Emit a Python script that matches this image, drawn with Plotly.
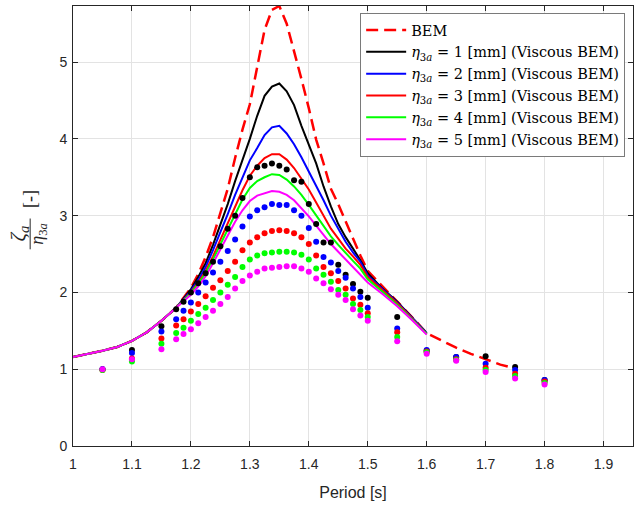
import plotly.graph_objects as go

# ---------------- data ----------------
period_line = [1.0, 1.025, 1.05, 1.075, 1.1, 1.125, 1.15, 1.175, 1.2, 1.2125, 1.225, 1.2375,
               1.25, 1.2625, 1.275, 1.2875, 1.3, 1.3125, 1.325, 1.3375, 1.35, 1.3625, 1.375,
               1.3875, 1.4, 1.4125, 1.425, 1.4375, 1.45, 1.4625, 1.475, 1.4875, 1.5, 1.525,
               1.55, 1.575, 1.6]
period_bem = period_line + [1.625, 1.65, 1.675, 1.7, 1.725, 1.75]

low_common = [1.16, 1.20, 1.24, 1.29, 1.37, 1.48, 1.63, 1.80]

bem = low_common + [2.06, 2.24, 2.46, 2.72, 3.05, 3.35, 3.75, 4.12, 4.45, 4.95, 5.42, 5.68, 5.73,
                    5.5, 5.15, 4.78, 4.4, 3.99, 3.68, 3.35, 3.15, 2.92, 2.7, 2.48, 2.28, 2.08,
                    1.89, 1.68, 1.47, 1.37, 1.28, 1.2, 1.13, 1.06, 1.01]

visc_1mm = low_common + [2.04, 2.2, 2.38, 2.62, 2.88, 3.15, 3.45, 3.72, 4.0, 4.3, 4.56, 4.68, 4.72,
                         4.62, 4.44, 4.17, 3.93, 3.68, 3.38, 3.12, 2.89, 2.72, 2.57, 2.42, 2.25,
                         2.05, 1.88, 1.68, 1.47]
visc_2mm = low_common + [2.02, 2.16, 2.33, 2.55, 2.78, 3.02, 3.27, 3.5, 3.72, 3.88, 4.05, 4.15, 4.17,
                         4.07, 3.93, 3.76, 3.58, 3.4, 3.2, 3.0, 2.82, 2.66, 2.52, 2.4, 2.22,
                         2.04, 1.87, 1.67, 1.47]
visc_3mm = low_common + [2.0, 2.13, 2.28, 2.47, 2.69, 2.9, 3.12, 3.33, 3.52, 3.65, 3.75, 3.8, 3.8,
                         3.73, 3.62, 3.48, 3.34, 3.17, 2.99, 2.83, 2.7, 2.57, 2.47, 2.36, 2.2,
                         2.03, 1.86, 1.66, 1.46]
visc_4mm = low_common + [1.99, 2.11, 2.25, 2.43, 2.63, 2.83, 3.03, 3.21, 3.36, 3.45, 3.5, 3.54, 3.53,
                         3.47, 3.38, 3.27, 3.14, 3.0, 2.86, 2.73, 2.62, 2.51, 2.41, 2.31, 2.17,
                         2.01, 1.84, 1.65, 1.46]
visc_5mm = low_common + [1.97, 2.08, 2.21, 2.38, 2.56, 2.74, 2.92, 3.07, 3.19, 3.26, 3.29, 3.32, 3.31,
                         3.27, 3.2, 3.1, 2.99, 2.87, 2.75, 2.63, 2.53, 2.43, 2.33, 2.24, 2.13,
                         1.98, 1.82, 1.64, 1.45]

period_exp = [1.05, 1.1, 1.15, 1.175, 1.1875, 1.2, 1.2125, 1.225, 1.2375, 1.25, 1.2625, 1.275,
              1.2875, 1.3, 1.3125, 1.325, 1.3375, 1.35, 1.3625, 1.375, 1.3875, 1.4, 1.4125,
              1.425, 1.4375, 1.45, 1.4625, 1.475, 1.4875, 1.5, 1.55, 1.6, 1.65, 1.7, 1.75, 1.8]

exp_1mm = [1.0, 1.25, 1.56, 1.78, 1.88, 2.0, 2.12, 2.25, 2.4, 2.6, 2.83, 3.0, 3.23, 3.5, 3.63, 3.65,
           3.68, 3.65, 3.6, 3.46, 3.44, 3.15, 2.89, 2.65, 2.65, 2.36, 2.23, 2.11, 2.01, 1.93, 1.68,
           1.24, 1.16, 1.17, 1.03, 0.86]
exp_2mm = [1.0, 1.21, 1.49, 1.65, 1.76, 1.87, 2.0, 2.13, 2.26, 2.4, 2.54, 2.69, 2.86, 2.99, 3.07,
           3.11, 3.15, 3.14, 3.14, 3.07, 3.0, 2.84, 2.66, 2.46, 2.39, 2.28, 2.19, 2.05, 1.94, 1.8,
           1.53, 1.25, 1.16, 1.07, 0.99, 0.86]
exp_3mm = [0.99, 1.14, 1.4, 1.57, 1.65, 1.75, 1.85, 1.95, 2.06, 2.16, 2.28, 2.4, 2.55, 2.65, 2.72,
           2.77, 2.8, 2.81, 2.8, 2.77, 2.72, 2.63, 2.48, 2.33, 2.25, 2.15, 2.05, 1.92, 1.84, 1.73,
           1.48, 1.23, 1.13, 1.02, 0.94, 0.84]
exp_4mm = [0.99, 1.1, 1.33, 1.47, 1.54, 1.63, 1.72, 1.8, 1.9, 2.0, 2.1, 2.2, 2.33, 2.43, 2.48,
           2.51, 2.52, 2.53, 2.53, 2.52, 2.49, 2.43, 2.31, 2.23, 2.14, 2.03, 1.97, 1.85, 1.77, 1.68,
           1.42, 1.22, 1.12, 0.99, 0.91, 0.82]
exp_5mm = [1.0, 1.13, 1.26, 1.39, 1.46, 1.52, 1.6, 1.68, 1.76, 1.85, 1.94, 2.05, 2.15, 2.22, 2.27,
           2.31, 2.32, 2.33, 2.34, 2.34, 2.31, 2.27, 2.18, 2.12, 2.04, 1.97, 1.9, 1.78, 1.7, 1.63,
           1.365, 1.2, 1.11, 0.965, 0.88, 0.8]

amplitudes = [1, 2, 3, 4, 5]
colors = ["#000000", "#0000ff", "#ff0000", "#00ff00", "#ff00ff"]
visc_series = [visc_1mm, visc_2mm, visc_3mm, visc_4mm, visc_5mm]
exp_series = [exp_1mm, exp_2mm, exp_3mm, exp_4mm, exp_5mm]

# ---------------- figure ----------------
SERIF = "Liberation Serif, DejaVu Serif, serif"
LEG_SERIF = "DejaVu Serif, Liberation Serif, serif"
SANS = "Liberation Sans, Arial, sans-serif"
AX = "#262626"

fig = go.Figure()

fig.add_trace(go.Scatter(x=period_bem, y=bem, mode="lines", name="BEM",
                         line=dict(color="#ff0000", width=2.5, dash="12px,6px")))

for a, c, ys in zip(amplitudes, colors, visc_series):
    fig.add_trace(go.Scatter(
        x=period_line, y=ys, mode="lines",
        name=f"<i>η</i><sub>3<i>a</i></sub> = {a} [mm] (Viscous BEM)",
        line=dict(color=c, width=2)))

for c, ys in zip(colors, exp_series):
    fig.add_trace(go.Scatter(x=period_exp, y=ys, mode="markers", showlegend=False,
                             marker=dict(color=c, size=6, line=dict(width=0))))

axis_common = dict(showline=True, linecolor=AX, linewidth=1, mirror="ticks",
                   ticks="inside", ticklen=5, tickcolor=AX, tickwidth=1,
                   showgrid=True, gridcolor="#e3e3e3", gridwidth=1, zeroline=False,
                   tickfont=dict(family=SANS, size=14, color=AX))

fig.update_xaxes(range=[1, 1.95], tick0=1, dtick=0.1, ticklabelstandoff=5,
                 title=dict(text="Period [s]", font=dict(family=SANS, size=16, color=AX), standoff=16),
                 **axis_common)
fig.update_yaxes(range=[0, 5.73], tick0=0, dtick=1, ticklabelstandoff=2, **axis_common)

# y-axis label: stacked fraction  ζa / η3a   [-]  (rotated)
fig.add_annotation(xref="paper", yref="paper", x=-0.097, y=0.482, textangle=-90,
                   xanchor="center", yanchor="middle",
                   text="<i>ζ</i><sub><i>a</i></sub>", showarrow=False,
                   font=dict(family=SERIF, size=21, color=AX))
fig.add_annotation(xref="paper", yref="paper", x=-0.061, y=0.482, textangle=-90,
                   xanchor="center", yanchor="middle",
                   text="<i>η</i><sub>3<i>a</i></sub>", showarrow=False,
                   font=dict(family=SERIF, size=18, color=AX))
fig.add_shape(type="line", xref="paper", yref="paper", x0=-0.0765, x1=-0.0765,
              y0=0.447, y1=0.517, line=dict(color=AX, width=1))
fig.add_annotation(xref="paper", yref="paper", x=-0.0765, y=0.562, textangle=-90,
                   xanchor="center", yanchor="middle",
                   text="[-]", showarrow=False,
                   font=dict(family=SERIF, size=18, color=AX))

fig.update_layout(
    width=644, height=508,
    margin=dict(l=73, r=11, t=6, b=62),
    paper_bgcolor="white", plot_bgcolor="white",
    legend=dict(x=0.986, xanchor="right", y=0.984, yanchor="top",
                bgcolor="white", bordercolor="#7a7a7a", borderwidth=1,
                font=dict(family=LEG_SERIF, size=14.5, color="#000000"),
                itemwidth=40, tracegroupgap=0),
    showlegend=True,
)

fig.write_html("out.html", config={"displayModeBar": False},
               post_script="document.body.style.margin='0px';")
